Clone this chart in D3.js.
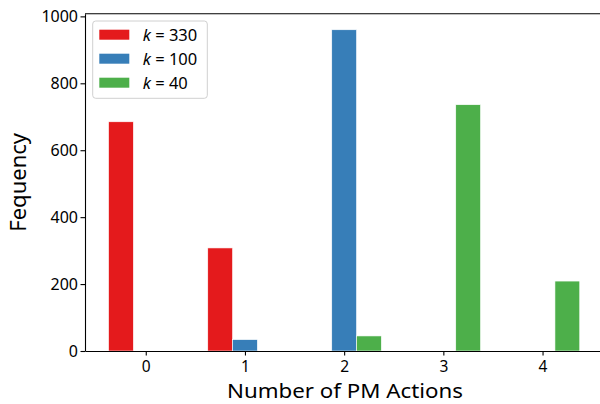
<!DOCTYPE html>
<html><head><meta charset="utf-8">
<script src="https://cdn.jsdelivr.net/npm/d3@7"></script>
<style>
body{margin:0;background:#fff;}
text{font-family:"Noto Sans",sans-serif;fill:#000;}
</style></head>
<body><svg id="c" width="600" height="404"></svg>
<script>
const categories = [0, 1, 2, 3, 4];
const seriesNames = ["330", "100", "40"];
const seriesColors = ["#e41a1c", "#377eb8", "#4daf4a"];
const k330 = [685, 308, 0, 0, 0];
const k100 = [0, 34, 960, 0, 0];
const k40 = [0, 0, 45, 736, 209];
const yTicks = [0, 200, 400, 600, 800, 1000];
const series = [k330, k100, k40];

const svg = d3.select("#c");
const L = 85, R = 603.3, T = 13.7, B = 351;
const x = d3.scaleLinear().domain([-0.6125, 4.6125]).range([L, R]);
const y = d3.scaleLinear().domain([0, 1008]).range([B, T]);
const bw = 0.25;

series.forEach((vals, si) => {
  svg.append("g").selectAll("rect").data(vals.map((v, i) => ({v, c: categories[i]})))
    .join("rect")
    .attr("x", d => x(d.c + (si - 1) * bw - bw / 2))
    .attr("width", d => x(bw) - x(0))
    .attr("y", d => y(d.v))
    .attr("height", d => y(0) - y(d.v))
    .attr("fill", seriesColors[si])
    .attr("stroke", "#fff").attr("stroke-width", 0.6);
});

// axes
const xa = svg.append("g").attr("transform", `translate(0,${B})`)
  .call(d3.axisBottom(x).tickValues(categories).tickFormat(d3.format("d")).tickSize(4.5).tickSizeOuter(0));
const ya = svg.append("g").attr("transform", `translate(${L},0)`)
  .call(d3.axisLeft(y).tickValues(yTicks).tickFormat(d3.format("d")).tickSize(4.5).tickSizeOuter(0));
[xa, ya].forEach(a => {
  a.select(".domain").attr("stroke", "#000").attr("stroke-width", 1.1);
  a.selectAll(".tick line").attr("stroke", "#000").attr("stroke-width", 1.1);
  a.selectAll(".tick text").attr("font-size", 16).attr("font-family", "Noto Sans").attr("fill", "#000");
});
xa.selectAll(".tick text").attr("font-size", 15.5).attr("dy", null).attr("y", 20.5);
ya.selectAll(".tick text").attr("x", -7);
// top spine
svg.append("line").attr("x1", L).attr("x2", R).attr("y1", T).attr("y2", T)
  .attr("stroke", "#000").attr("stroke-width", 1.1);

svg.append("text").attr("x", 345).attr("y", 398).attr("text-anchor", "middle")
  .attr("font-size", 20).attr("textLength", 236).attr("lengthAdjust", "spacingAndGlyphs")
  .text("Number of PM Actions");
svg.append("text").attr("transform", `translate(26,${(T + B) / 2}) rotate(-90)`)
  .attr("text-anchor", "middle").attr("font-size", 22).text("Fequency");

// legend
const lg = svg.append("g");
lg.append("rect").attr("x", 92.7).attr("y", 21).attr("width", 114.6).attr("height", 77.3)
  .attr("rx", 3).attr("fill", "#fff").attr("fill-opacity", 0.8)
  .attr("stroke", "#d0d0d0").attr("stroke-width", 1);
seriesNames.forEach((n, i) => {
  const cy = 34.7 + i * 24;
  lg.append("rect").attr("x", 99.3).attr("y", cy - 5).attr("width", 30).attr("height", 10)
    .attr("fill", seriesColors[i]);
  const t = lg.append("text").attr("x", 142.7).attr("y", cy + 6).attr("font-size", 16.5);
  t.append("tspan").attr("font-style", "italic").text("k");
  t.append("tspan").text(" = " + n);
});
</script></body></html>
